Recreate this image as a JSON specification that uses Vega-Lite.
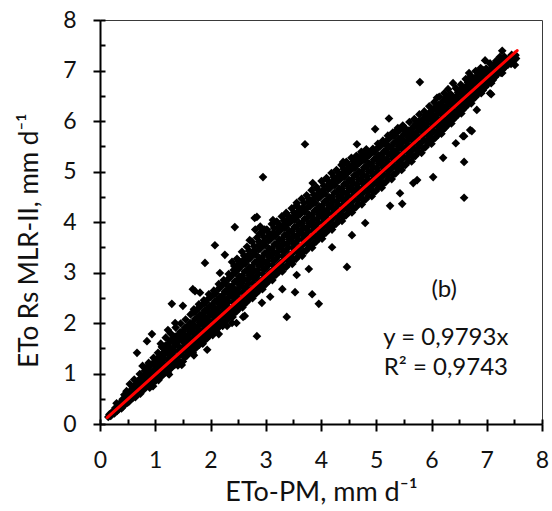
{
  "$schema": "https://vega.github.io/schema/vega-lite/v6.json",
  "width": 442,
  "height": 404,
  "autosize": {"type": "none"},
  "padding": {"left": 100, "top": 20, "right": 10, "bottom": 87},
  "background": "white",
  "config": {
    "view": {"stroke": "#3a3a3a", "strokeWidth": 1},
    "font": "Lato"
  },
  "datasets": {
    "obs": [
      {"pm":0.15,"mlr":0.14},{"pm":0.17,"mlr":0.19},{"pm":0.2,"mlr":0.17},{"pm":0.23,"mlr":0.25},
      {"pm":0.31,"mlr":0.26},{"pm":0.28,"mlr":0.32},{"pm":0.3,"mlr":0.41},
      {"pm":0.39,"mlr":0.31},{"pm":0.35,"mlr":0.4},{"pm":0.41,"mlr":0.49},
      {"pm":0.45,"mlr":0.39},{"pm":0.47,"mlr":0.46},{"pm":0.44,"mlr":0.58},{"pm":0.48,"mlr":0.65},
      {"pm":0.53,"mlr":0.45},{"pm":0.57,"mlr":0.57},{"pm":0.56,"mlr":0.67},{"pm":0.54,"mlr":0.79},
      {"pm":0.64,"mlr":0.53},{"pm":0.61,"mlr":0.63},{"pm":0.65,"mlr":0.78},{"pm":0.62,"mlr":0.88},
      {"pm":0.73,"mlr":0.6},{"pm":0.7,"mlr":0.74},{"pm":0.68,"mlr":0.84},{"pm":0.72,"mlr":0.99},
      {"pm":0.79,"mlr":0.68},{"pm":0.82,"mlr":0.78},{"pm":0.78,"mlr":0.93},{"pm":0.81,"mlr":1.05},{"pm":0.77,"mlr":1.15},
      {"pm":0.9,"mlr":0.72},{"pm":0.87,"mlr":0.87},{"pm":0.89,"mlr":0.98},{"pm":0.86,"mlr":1.13},{"pm":0.88,"mlr":1.21},
      {"pm":0.95,"mlr":0.81},{"pm":0.98,"mlr":0.92},{"pm":0.99,"mlr":1.08},{"pm":0.96,"mlr":1.19},{"pm":0.97,"mlr":1.31},
      {"pm":1.06,"mlr":0.87},{"pm":1.03,"mlr":1.01},{"pm":1.07,"mlr":1.13},{"pm":1.04,"mlr":1.29},{"pm":1.05,"mlr":1.41},
      {"pm":1.12,"mlr":0.95},{"pm":1.15,"mlr":1.07},{"pm":1.11,"mlr":1.23},{"pm":1.14,"mlr":1.35},{"pm":1.13,"mlr":1.51},{"pm":1.1,"mlr":1.59},
      {"pm":1.23,"mlr":1.01},{"pm":1.2,"mlr":1.17},{"pm":1.24,"mlr":1.29},{"pm":1.21,"mlr":1.45},{"pm":1.22,"mlr":1.57},{"pm":1.19,"mlr":1.71},
      {"pm":1.29,"mlr":1.11},{"pm":1.33,"mlr":1.23},{"pm":1.3,"mlr":1.39},{"pm":1.32,"mlr":1.51},{"pm":1.31,"mlr":1.67},{"pm":1.28,"mlr":1.79},
      {"pm":1.41,"mlr":1.16},{"pm":1.38,"mlr":1.32},{"pm":1.42,"mlr":1.45},{"pm":1.39,"mlr":1.61},{"pm":1.4,"mlr":1.74},{"pm":1.37,"mlr":1.91},
      {"pm":1.5,"mlr":1.24},{"pm":1.47,"mlr":1.41},{"pm":1.51,"mlr":1.53},{"pm":1.48,"mlr":1.7},{"pm":1.49,"mlr":1.83},{"pm":1.46,"mlr":1.99},
      {"pm":1.57,"mlr":1.35},{"pm":1.6,"mlr":1.47},{"pm":1.56,"mlr":1.63},{"pm":1.59,"mlr":1.76},{"pm":1.58,"mlr":1.93},{"pm":1.55,"mlr":2.07},
      {"pm":1.68,"mlr":1.41},{"pm":1.65,"mlr":1.57},{"pm":1.69,"mlr":1.7},{"pm":1.66,"mlr":1.87},{"pm":1.67,"mlr":1.99},{"pm":1.64,"mlr":2.17},{"pm":1.7,"mlr":2.27},
      {"pm":1.74,"mlr":1.51},{"pm":1.78,"mlr":1.63},{"pm":1.75,"mlr":1.8},{"pm":1.77,"mlr":1.93},{"pm":1.76,"mlr":2.1},{"pm":1.73,"mlr":2.23},{"pm":1.79,"mlr":2.37},
      {"pm":1.86,"mlr":1.59},{"pm":1.83,"mlr":1.74},{"pm":1.87,"mlr":1.87},{"pm":1.84,"mlr":2.04},{"pm":1.85,"mlr":2.17},{"pm":1.82,"mlr":2.33},{"pm":1.88,"mlr":2.45},
      {"pm":1.93,"mlr":1.69},{"pm":1.96,"mlr":1.81},{"pm":1.92,"mlr":1.98},{"pm":1.95,"mlr":2.11},{"pm":1.94,"mlr":2.28},{"pm":1.91,"mlr":2.41},{"pm":1.97,"mlr":2.57},
      {"pm":2.04,"mlr":1.76},{"pm":2.01,"mlr":1.91},{"pm":2.05,"mlr":2.05},{"pm":2.02,"mlr":2.21},{"pm":2.03,"mlr":2.35},{"pm":2.0,"mlr":2.51},{"pm":2.06,"mlr":2.64},
      {"pm":2.11,"mlr":1.87},{"pm":2.14,"mlr":1.99},{"pm":2.1,"mlr":2.16},{"pm":2.13,"mlr":2.29},{"pm":2.12,"mlr":2.46},{"pm":2.09,"mlr":2.59},{"pm":2.15,"mlr":2.77},
      {"pm":2.22,"mlr":1.94},{"pm":2.19,"mlr":2.11},{"pm":2.23,"mlr":2.24},{"pm":2.2,"mlr":2.41},{"pm":2.21,"mlr":2.54},{"pm":2.18,"mlr":2.71},{"pm":2.24,"mlr":2.85},
      {"pm":2.29,"mlr":2.05},{"pm":2.32,"mlr":2.17},{"pm":2.28,"mlr":2.35},{"pm":2.31,"mlr":2.49},{"pm":2.3,"mlr":2.66},{"pm":2.27,"mlr":2.79},{"pm":2.33,"mlr":2.97},
      {"pm":2.4,"mlr":2.12},{"pm":2.37,"mlr":2.28},{"pm":2.41,"mlr":2.42},{"pm":2.38,"mlr":2.59},{"pm":2.39,"mlr":2.73},{"pm":2.36,"mlr":2.91},{"pm":2.42,"mlr":3.05},{"pm":2.39,"mlr":3.21},
      {"pm":2.47,"mlr":2.23},{"pm":2.5,"mlr":2.35},{"pm":2.46,"mlr":2.53},{"pm":2.49,"mlr":2.67},{"pm":2.48,"mlr":2.85},{"pm":2.45,"mlr":2.99},{"pm":2.51,"mlr":3.16},{"pm":2.48,"mlr":3.27},
      {"pm":2.58,"mlr":2.31},{"pm":2.55,"mlr":2.47},{"pm":2.59,"mlr":2.61},{"pm":2.56,"mlr":2.79},{"pm":2.57,"mlr":2.93},{"pm":2.54,"mlr":3.11},{"pm":2.6,"mlr":3.25},{"pm":2.57,"mlr":3.41},
      {"pm":2.65,"mlr":2.41},{"pm":2.68,"mlr":2.54},{"pm":2.64,"mlr":2.71},{"pm":2.67,"mlr":2.85},{"pm":2.66,"mlr":3.03},{"pm":2.63,"mlr":3.17},{"pm":2.69,"mlr":3.35},{"pm":2.66,"mlr":3.51},
      {"pm":2.76,"mlr":2.49},{"pm":2.73,"mlr":2.65},{"pm":2.77,"mlr":2.79},{"pm":2.74,"mlr":2.97},{"pm":2.75,"mlr":3.11},{"pm":2.72,"mlr":3.29},{"pm":2.78,"mlr":3.43},{"pm":2.75,"mlr":3.61},
      {"pm":2.83,"mlr":2.59},{"pm":2.86,"mlr":2.72},{"pm":2.82,"mlr":2.9},{"pm":2.85,"mlr":3.04},{"pm":2.84,"mlr":3.22},{"pm":2.81,"mlr":3.36},{"pm":2.87,"mlr":3.54},{"pm":2.84,"mlr":3.69},{"pm":2.81,"mlr":3.85},
      {"pm":2.94,"mlr":2.67},{"pm":2.91,"mlr":2.83},{"pm":2.95,"mlr":2.97},{"pm":2.92,"mlr":3.15},{"pm":2.93,"mlr":3.29},{"pm":2.9,"mlr":3.47},{"pm":2.96,"mlr":3.61},{"pm":2.93,"mlr":3.79},{"pm":2.9,"mlr":3.91},
      {"pm":3.01,"mlr":2.78},{"pm":3.04,"mlr":2.9},{"pm":3.0,"mlr":3.08},{"pm":3.03,"mlr":3.22},{"pm":3.02,"mlr":3.4},{"pm":2.99,"mlr":3.54},{"pm":3.05,"mlr":3.72},{"pm":3.02,"mlr":3.85},
      {"pm":3.12,"mlr":2.85},{"pm":3.09,"mlr":3.01},{"pm":3.13,"mlr":3.15},{"pm":3.1,"mlr":3.33},{"pm":3.11,"mlr":3.47},{"pm":3.08,"mlr":3.65},{"pm":3.14,"mlr":3.79},{"pm":3.11,"mlr":3.96},
      {"pm":3.19,"mlr":2.96},{"pm":3.22,"mlr":3.08},{"pm":3.18,"mlr":3.26},{"pm":3.21,"mlr":3.4},{"pm":3.2,"mlr":3.58},{"pm":3.17,"mlr":3.72},{"pm":3.23,"mlr":3.89},{"pm":3.2,"mlr":4.01},
      {"pm":3.3,"mlr":3.02},{"pm":3.27,"mlr":3.19},{"pm":3.31,"mlr":3.33},{"pm":3.28,"mlr":3.51},{"pm":3.29,"mlr":3.65},{"pm":3.26,"mlr":3.83},{"pm":3.32,"mlr":3.95},{"pm":3.29,"mlr":4.11},
      {"pm":3.37,"mlr":3.11},{"pm":3.4,"mlr":3.25},{"pm":3.36,"mlr":3.43},{"pm":3.39,"mlr":3.57},{"pm":3.38,"mlr":3.75},{"pm":3.35,"mlr":3.89},{"pm":3.41,"mlr":4.05},{"pm":3.38,"mlr":4.15},
      {"pm":3.48,"mlr":3.17},{"pm":3.45,"mlr":3.35},{"pm":3.49,"mlr":3.49},{"pm":3.46,"mlr":3.67},{"pm":3.47,"mlr":3.81},{"pm":3.44,"mlr":3.99},{"pm":3.5,"mlr":4.11},{"pm":3.47,"mlr":4.27},
      {"pm":3.55,"mlr":3.27},{"pm":3.58,"mlr":3.41},{"pm":3.54,"mlr":3.59},{"pm":3.57,"mlr":3.73},{"pm":3.56,"mlr":3.91},{"pm":3.53,"mlr":4.05},{"pm":3.59,"mlr":4.21},{"pm":3.56,"mlr":4.33},
      {"pm":3.66,"mlr":3.33},{"pm":3.63,"mlr":3.51},{"pm":3.67,"mlr":3.65},{"pm":3.64,"mlr":3.83},{"pm":3.65,"mlr":3.97},{"pm":3.62,"mlr":4.15},{"pm":3.68,"mlr":4.29},{"pm":3.65,"mlr":4.46},
      {"pm":3.73,"mlr":3.43},{"pm":3.76,"mlr":3.57},{"pm":3.72,"mlr":3.75},{"pm":3.75,"mlr":3.89},{"pm":3.74,"mlr":4.07},{"pm":3.71,"mlr":4.21},{"pm":3.77,"mlr":4.39},{"pm":3.74,"mlr":4.53},
      {"pm":3.84,"mlr":3.49},{"pm":3.81,"mlr":3.67},{"pm":3.85,"mlr":3.81},{"pm":3.82,"mlr":3.99},{"pm":3.83,"mlr":4.13},{"pm":3.8,"mlr":4.31},{"pm":3.86,"mlr":4.45},{"pm":3.83,"mlr":4.63},
      {"pm":3.91,"mlr":3.61},{"pm":3.94,"mlr":3.74},{"pm":3.9,"mlr":3.92},{"pm":3.93,"mlr":4.06},{"pm":3.92,"mlr":4.24},{"pm":3.89,"mlr":4.38},{"pm":3.95,"mlr":4.56},{"pm":3.92,"mlr":4.69},
      {"pm":4.02,"mlr":3.67},{"pm":3.99,"mlr":3.85},{"pm":4.03,"mlr":3.99},{"pm":4.0,"mlr":4.17},{"pm":4.01,"mlr":4.31},{"pm":3.98,"mlr":4.49},{"pm":4.04,"mlr":4.63},{"pm":4.01,"mlr":4.81},
      {"pm":4.09,"mlr":3.79},{"pm":4.12,"mlr":3.92},{"pm":4.08,"mlr":4.1},{"pm":4.11,"mlr":4.24},{"pm":4.1,"mlr":4.42},{"pm":4.07,"mlr":4.56},{"pm":4.13,"mlr":4.73},{"pm":4.1,"mlr":4.87},
      {"pm":4.2,"mlr":3.85},{"pm":4.17,"mlr":4.03},{"pm":4.21,"mlr":4.17},{"pm":4.18,"mlr":4.35},{"pm":4.19,"mlr":4.49},{"pm":4.16,"mlr":4.67},{"pm":4.22,"mlr":4.81},{"pm":4.19,"mlr":4.97},
      {"pm":4.27,"mlr":3.96},{"pm":4.3,"mlr":4.09},{"pm":4.26,"mlr":4.27},{"pm":4.29,"mlr":4.41},{"pm":4.28,"mlr":4.59},{"pm":4.25,"mlr":4.73},{"pm":4.31,"mlr":4.91},{"pm":4.28,"mlr":5.03},
      {"pm":4.38,"mlr":4.02},{"pm":4.35,"mlr":4.2},{"pm":4.39,"mlr":4.34},{"pm":4.36,"mlr":4.52},{"pm":4.37,"mlr":4.66},{"pm":4.34,"mlr":4.84},{"pm":4.4,"mlr":4.97},{"pm":4.37,"mlr":5.13},
      {"pm":4.45,"mlr":4.13},{"pm":4.48,"mlr":4.26},{"pm":4.44,"mlr":4.44},{"pm":4.47,"mlr":4.58},{"pm":4.46,"mlr":4.76},{"pm":4.43,"mlr":4.9},{"pm":4.49,"mlr":5.07},{"pm":4.46,"mlr":5.19},
      {"pm":4.56,"mlr":4.19},{"pm":4.53,"mlr":4.37},{"pm":4.57,"mlr":4.51},{"pm":4.54,"mlr":4.69},{"pm":4.55,"mlr":4.83},{"pm":4.52,"mlr":5.01},{"pm":4.58,"mlr":5.13},{"pm":4.55,"mlr":5.27},
      {"pm":4.63,"mlr":4.29},{"pm":4.66,"mlr":4.43},{"pm":4.62,"mlr":4.61},{"pm":4.65,"mlr":4.75},{"pm":4.64,"mlr":4.93},{"pm":4.61,"mlr":5.07},{"pm":4.67,"mlr":5.23},{"pm":4.64,"mlr":5.31},
      {"pm":4.74,"mlr":4.35},{"pm":4.71,"mlr":4.53},{"pm":4.75,"mlr":4.67},{"pm":4.72,"mlr":4.85},{"pm":4.73,"mlr":4.99},{"pm":4.7,"mlr":5.17},{"pm":4.76,"mlr":5.29},{"pm":4.73,"mlr":5.39},
      {"pm":4.81,"mlr":4.45},{"pm":4.84,"mlr":4.59},{"pm":4.8,"mlr":4.77},{"pm":4.83,"mlr":4.91},{"pm":4.82,"mlr":5.09},{"pm":4.79,"mlr":5.23},{"pm":4.85,"mlr":5.39},{"pm":4.82,"mlr":5.44},
      {"pm":4.92,"mlr":4.51},{"pm":4.89,"mlr":4.69},{"pm":4.93,"mlr":4.83},{"pm":4.9,"mlr":5.01},{"pm":4.91,"mlr":5.15},{"pm":4.88,"mlr":5.33},{"pm":4.94,"mlr":5.45},
      {"pm":4.99,"mlr":4.61},{"pm":5.02,"mlr":4.75},{"pm":4.98,"mlr":4.93},{"pm":5.01,"mlr":5.07},{"pm":5.0,"mlr":5.25},{"pm":4.97,"mlr":5.39},{"pm":5.03,"mlr":5.55},
      {"pm":5.1,"mlr":4.68},{"pm":5.07,"mlr":4.86},{"pm":5.11,"mlr":5.0},{"pm":5.08,"mlr":5.18},{"pm":5.09,"mlr":5.32},{"pm":5.06,"mlr":5.49},{"pm":5.12,"mlr":5.61},
      {"pm":5.17,"mlr":4.79},{"pm":5.2,"mlr":4.93},{"pm":5.16,"mlr":5.11},{"pm":5.19,"mlr":5.25},{"pm":5.18,"mlr":5.43},{"pm":5.15,"mlr":5.56},{"pm":5.21,"mlr":5.71},
      {"pm":5.28,"mlr":4.85},{"pm":5.25,"mlr":5.03},{"pm":5.29,"mlr":5.17},{"pm":5.26,"mlr":5.35},{"pm":5.27,"mlr":5.49},{"pm":5.24,"mlr":5.66},{"pm":5.3,"mlr":5.77},
      {"pm":5.35,"mlr":4.96},{"pm":5.38,"mlr":5.1},{"pm":5.34,"mlr":5.28},{"pm":5.37,"mlr":5.42},{"pm":5.36,"mlr":5.59},{"pm":5.33,"mlr":5.72},{"pm":5.39,"mlr":5.86},
      {"pm":5.46,"mlr":5.03},{"pm":5.43,"mlr":5.21},{"pm":5.47,"mlr":5.35},{"pm":5.44,"mlr":5.53},{"pm":5.45,"mlr":5.66},{"pm":5.42,"mlr":5.82},{"pm":5.48,"mlr":5.91},
      {"pm":5.53,"mlr":5.13},{"pm":5.56,"mlr":5.27},{"pm":5.52,"mlr":5.45},{"pm":5.55,"mlr":5.59},{"pm":5.54,"mlr":5.76},{"pm":5.51,"mlr":5.87},
      {"pm":5.64,"mlr":5.2},{"pm":5.61,"mlr":5.38},{"pm":5.65,"mlr":5.52},{"pm":5.62,"mlr":5.7},{"pm":5.63,"mlr":5.83},{"pm":5.6,"mlr":5.98},
      {"pm":5.71,"mlr":5.31},{"pm":5.74,"mlr":5.45},{"pm":5.7,"mlr":5.63},{"pm":5.73,"mlr":5.77},{"pm":5.72,"mlr":5.94},{"pm":5.69,"mlr":6.04},
      {"pm":5.82,"mlr":5.37},{"pm":5.79,"mlr":5.55},{"pm":5.83,"mlr":5.69},{"pm":5.8,"mlr":5.87},{"pm":5.81,"mlr":5.99},{"pm":5.78,"mlr":6.13},
      {"pm":5.89,"mlr":5.48},{"pm":5.92,"mlr":5.62},{"pm":5.88,"mlr":5.8},{"pm":5.91,"mlr":5.94},{"pm":5.9,"mlr":6.1},{"pm":5.87,"mlr":6.19},
      {"pm":6.0,"mlr":5.55},{"pm":5.97,"mlr":5.73},{"pm":6.01,"mlr":5.87},{"pm":5.98,"mlr":6.04},{"pm":5.99,"mlr":6.16},{"pm":5.96,"mlr":6.29},
      {"pm":6.07,"mlr":5.67},{"pm":6.1,"mlr":5.8},{"pm":6.06,"mlr":5.98},{"pm":6.09,"mlr":6.11},{"pm":6.08,"mlr":6.27},{"pm":6.05,"mlr":6.37},
      {"pm":6.18,"mlr":5.75},{"pm":6.15,"mlr":5.91},{"pm":6.19,"mlr":6.05},{"pm":6.16,"mlr":6.22},{"pm":6.17,"mlr":6.34},{"pm":6.14,"mlr":6.48},
      {"pm":6.25,"mlr":5.87},{"pm":6.28,"mlr":5.99},{"pm":6.24,"mlr":6.16},{"pm":6.27,"mlr":6.29},{"pm":6.26,"mlr":6.45},{"pm":6.23,"mlr":6.55},
      {"pm":6.36,"mlr":5.95},{"pm":6.33,"mlr":6.11},{"pm":6.37,"mlr":6.24},{"pm":6.34,"mlr":6.41},{"pm":6.35,"mlr":6.53},
      {"pm":6.43,"mlr":6.07},{"pm":6.46,"mlr":6.19},{"pm":6.42,"mlr":6.36},{"pm":6.45,"mlr":6.49},{"pm":6.44,"mlr":6.65},
      {"pm":6.54,"mlr":6.15},{"pm":6.51,"mlr":6.31},{"pm":6.55,"mlr":6.44},{"pm":6.52,"mlr":6.61},{"pm":6.53,"mlr":6.72},
      {"pm":6.61,"mlr":6.27},{"pm":6.64,"mlr":6.39},{"pm":6.6,"mlr":6.56},{"pm":6.63,"mlr":6.69},{"pm":6.62,"mlr":6.83},
      {"pm":6.72,"mlr":6.35},{"pm":6.69,"mlr":6.51},{"pm":6.73,"mlr":6.64},{"pm":6.7,"mlr":6.81},{"pm":6.71,"mlr":6.89},
      {"pm":6.79,"mlr":6.47},{"pm":6.82,"mlr":6.59},{"pm":6.78,"mlr":6.76},{"pm":6.81,"mlr":6.87},{"pm":6.8,"mlr":6.99},
      {"pm":6.9,"mlr":6.55},{"pm":6.87,"mlr":6.71},{"pm":6.91,"mlr":6.83},{"pm":6.88,"mlr":6.98},{"pm":6.89,"mlr":7.05},
      {"pm":6.97,"mlr":6.67},{"pm":7.0,"mlr":6.79},{"pm":6.96,"mlr":6.94},{"pm":6.99,"mlr":7.04},
      {"pm":7.08,"mlr":6.75},{"pm":7.05,"mlr":6.91},{"pm":7.09,"mlr":7.01},{"pm":7.06,"mlr":7.14},
      {"pm":7.15,"mlr":6.87},{"pm":7.18,"mlr":6.99},{"pm":7.14,"mlr":7.11},{"pm":7.17,"mlr":7.19},
      {"pm":7.26,"mlr":6.95},{"pm":7.23,"mlr":7.09},{"pm":7.27,"mlr":7.17},{"pm":7.24,"mlr":7.27},
      {"pm":7.33,"mlr":7.07},{"pm":7.36,"mlr":7.15},{"pm":7.32,"mlr":7.27},
      {"pm":7.44,"mlr":7.13},{"pm":7.41,"mlr":7.25},{"pm":7.45,"mlr":7.31},
      {"pm":7.5,"mlr":7.21},{"pm":7.52,"mlr":7.3},{"pm":7.53,"mlr":7.24},
      {"pm":0.19,"mlr":0.16},{"pm":0.26,"mlr":0.21},{"pm":0.34,"mlr":0.29},{"pm":0.33,"mlr":0.37},
      {"pm":0.42,"mlr":0.35},{"pm":0.4,"mlr":0.44},{"pm":0.5,"mlr":0.42},{"pm":0.51,"mlr":0.52},{"pm":0.49,"mlr":0.61},
      {"pm":0.59,"mlr":0.51},{"pm":0.58,"mlr":0.62},{"pm":0.6,"mlr":0.73},{"pm":0.67,"mlr":0.58},{"pm":0.66,"mlr":0.7},{"pm":0.68,"mlr":0.83},
      {"pm":0.75,"mlr":0.67},{"pm":0.76,"mlr":0.79},{"pm":0.74,"mlr":0.91},
      {"pm":0.83,"mlr":0.73},{"pm":0.84,"mlr":0.85},{"pm":0.83,"mlr":0.99},{"pm":0.82,"mlr":1.1},
      {"pm":0.92,"mlr":0.8},{"pm":0.93,"mlr":0.92},{"pm":0.91,"mlr":1.05},{"pm":0.92,"mlr":1.17},
      {"pm":1.01,"mlr":0.86},{"pm":1.0,"mlr":1.0},{"pm":1.02,"mlr":1.13},{"pm":1.0,"mlr":1.25},
      {"pm":1.09,"mlr":0.94},{"pm":1.1,"mlr":1.07},{"pm":1.08,"mlr":1.21},{"pm":1.09,"mlr":1.35},
      {"pm":1.17,"mlr":1.01},{"pm":1.18,"mlr":1.15},{"pm":1.16,"mlr":1.29},{"pm":1.17,"mlr":1.43},{"pm":1.18,"mlr":1.55},
      {"pm":1.26,"mlr":1.09},{"pm":1.27,"mlr":1.23},{"pm":1.25,"mlr":1.37},{"pm":1.26,"mlr":1.51},{"pm":1.27,"mlr":1.64},
      {"pm":1.35,"mlr":1.17},{"pm":1.36,"mlr":1.31},{"pm":1.34,"mlr":1.45},{"pm":1.35,"mlr":1.59},{"pm":1.36,"mlr":1.73},
      {"pm":1.44,"mlr":1.24},{"pm":1.45,"mlr":1.38},{"pm":1.43,"mlr":1.53},{"pm":1.44,"mlr":1.67},{"pm":1.45,"mlr":1.82},
      {"pm":1.53,"mlr":1.32},{"pm":1.54,"mlr":1.47},{"pm":1.52,"mlr":1.61},{"pm":1.53,"mlr":1.76},{"pm":1.54,"mlr":1.91},
      {"pm":1.62,"mlr":1.41},{"pm":1.63,"mlr":1.55},{"pm":1.61,"mlr":1.69},{"pm":1.62,"mlr":1.84},{"pm":1.63,"mlr":2.0},
      {"pm":1.71,"mlr":1.49},{"pm":1.72,"mlr":1.63},{"pm":1.7,"mlr":1.78},{"pm":1.71,"mlr":1.93},{"pm":1.72,"mlr":2.08},{"pm":1.7,"mlr":2.22},
      {"pm":1.8,"mlr":1.57},{"pm":1.81,"mlr":1.71},{"pm":1.79,"mlr":1.86},{"pm":1.8,"mlr":2.01},{"pm":1.81,"mlr":2.16},{"pm":1.79,"mlr":2.3},
      {"pm":1.89,"mlr":1.66},{"pm":1.9,"mlr":1.8},{"pm":1.88,"mlr":1.95},{"pm":1.89,"mlr":2.1},{"pm":1.9,"mlr":2.25},{"pm":1.88,"mlr":2.39},
      {"pm":1.98,"mlr":1.75},{"pm":1.99,"mlr":1.89},{"pm":1.97,"mlr":2.04},{"pm":1.98,"mlr":2.19},{"pm":1.99,"mlr":2.34},{"pm":1.97,"mlr":2.49},
      {"pm":2.07,"mlr":1.83},{"pm":2.08,"mlr":1.98},{"pm":2.06,"mlr":2.13},{"pm":2.07,"mlr":2.28},{"pm":2.08,"mlr":2.43},{"pm":2.06,"mlr":2.57},
      {"pm":2.16,"mlr":1.93},{"pm":2.17,"mlr":2.07},{"pm":2.15,"mlr":2.22},{"pm":2.16,"mlr":2.37},{"pm":2.17,"mlr":2.52},{"pm":2.15,"mlr":2.68},
      {"pm":2.25,"mlr":2.02},{"pm":2.26,"mlr":2.17},{"pm":2.24,"mlr":2.32},{"pm":2.25,"mlr":2.47},{"pm":2.26,"mlr":2.62},{"pm":2.24,"mlr":2.78},
      {"pm":2.34,"mlr":2.11},{"pm":2.35,"mlr":2.26},{"pm":2.33,"mlr":2.42},{"pm":2.34,"mlr":2.57},{"pm":2.35,"mlr":2.72},{"pm":2.33,"mlr":2.88},
      {"pm":2.43,"mlr":2.2},{"pm":2.44,"mlr":2.35},{"pm":2.42,"mlr":2.5},{"pm":2.43,"mlr":2.66},{"pm":2.44,"mlr":2.82},{"pm":2.42,"mlr":2.98},{"pm":2.43,"mlr":3.13},
      {"pm":2.52,"mlr":2.29},{"pm":2.53,"mlr":2.44},{"pm":2.51,"mlr":2.6},{"pm":2.52,"mlr":2.76},{"pm":2.53,"mlr":2.92},{"pm":2.51,"mlr":3.07},{"pm":2.52,"mlr":3.22},
      {"pm":2.61,"mlr":2.39},{"pm":2.62,"mlr":2.54},{"pm":2.6,"mlr":2.7},{"pm":2.61,"mlr":2.86},{"pm":2.62,"mlr":3.02},{"pm":2.6,"mlr":3.18},{"pm":2.61,"mlr":3.33},
      {"pm":2.7,"mlr":2.47},{"pm":2.71,"mlr":2.62},{"pm":2.69,"mlr":2.78},{"pm":2.7,"mlr":2.94},{"pm":2.71,"mlr":3.1},{"pm":2.69,"mlr":3.26},{"pm":2.7,"mlr":3.43},
      {"pm":2.79,"mlr":2.57},{"pm":2.8,"mlr":2.72},{"pm":2.78,"mlr":2.88},{"pm":2.79,"mlr":3.04},{"pm":2.8,"mlr":3.2},{"pm":2.78,"mlr":3.36},{"pm":2.79,"mlr":3.52},
      {"pm":2.88,"mlr":2.65},{"pm":2.89,"mlr":2.81},{"pm":2.87,"mlr":2.97},{"pm":2.88,"mlr":3.13},{"pm":2.89,"mlr":3.29},{"pm":2.87,"mlr":3.45},{"pm":2.88,"mlr":3.61},{"pm":2.89,"mlr":3.77},
      {"pm":2.97,"mlr":2.75},{"pm":2.98,"mlr":2.9},{"pm":2.96,"mlr":3.06},{"pm":2.97,"mlr":3.22},{"pm":2.98,"mlr":3.38},{"pm":2.96,"mlr":3.54},{"pm":2.97,"mlr":3.7},{"pm":2.98,"mlr":3.85},
      {"pm":3.06,"mlr":2.84},{"pm":3.07,"mlr":2.99},{"pm":3.05,"mlr":3.15},{"pm":3.06,"mlr":3.31},{"pm":3.07,"mlr":3.47},{"pm":3.05,"mlr":3.63},{"pm":3.06,"mlr":3.78},
      {"pm":3.15,"mlr":2.93},{"pm":3.16,"mlr":3.08},{"pm":3.14,"mlr":3.24},{"pm":3.15,"mlr":3.4},{"pm":3.16,"mlr":3.56},{"pm":3.14,"mlr":3.72},{"pm":3.15,"mlr":3.88},
      {"pm":3.24,"mlr":3.02},{"pm":3.25,"mlr":3.17},{"pm":3.23,"mlr":3.33},{"pm":3.24,"mlr":3.49},{"pm":3.25,"mlr":3.65},{"pm":3.23,"mlr":3.8},{"pm":3.24,"mlr":3.95},
      {"pm":3.33,"mlr":3.1},{"pm":3.34,"mlr":3.26},{"pm":3.32,"mlr":3.42},{"pm":3.33,"mlr":3.58},{"pm":3.34,"mlr":3.74},{"pm":3.32,"mlr":3.89},{"pm":3.33,"mlr":4.03},
      {"pm":3.42,"mlr":3.18},{"pm":3.43,"mlr":3.34},{"pm":3.41,"mlr":3.5},{"pm":3.42,"mlr":3.66},{"pm":3.43,"mlr":3.82},{"pm":3.41,"mlr":3.97},{"pm":3.42,"mlr":4.1},
      {"pm":3.51,"mlr":3.26},{"pm":3.52,"mlr":3.42},{"pm":3.5,"mlr":3.58},{"pm":3.51,"mlr":3.74},{"pm":3.52,"mlr":3.9},{"pm":3.5,"mlr":4.05},{"pm":3.51,"mlr":4.19},
      {"pm":3.6,"mlr":3.34},{"pm":3.61,"mlr":3.5},{"pm":3.59,"mlr":3.66},{"pm":3.6,"mlr":3.82},{"pm":3.61,"mlr":3.98},{"pm":3.59,"mlr":4.13},{"pm":3.6,"mlr":4.27},
      {"pm":3.69,"mlr":3.42},{"pm":3.7,"mlr":3.58},{"pm":3.68,"mlr":3.74},{"pm":3.69,"mlr":3.9},{"pm":3.7,"mlr":4.06},{"pm":3.68,"mlr":4.22},{"pm":3.69,"mlr":4.38},
      {"pm":3.78,"mlr":3.5},{"pm":3.79,"mlr":3.66},{"pm":3.77,"mlr":3.82},{"pm":3.78,"mlr":3.98},{"pm":3.79,"mlr":4.14},{"pm":3.77,"mlr":4.3},{"pm":3.78,"mlr":4.46},
      {"pm":3.87,"mlr":3.58},{"pm":3.88,"mlr":3.74},{"pm":3.86,"mlr":3.9},{"pm":3.87,"mlr":4.06},{"pm":3.88,"mlr":4.22},{"pm":3.86,"mlr":4.38},{"pm":3.87,"mlr":4.54},
      {"pm":3.96,"mlr":3.67},{"pm":3.97,"mlr":3.83},{"pm":3.95,"mlr":3.99},{"pm":3.96,"mlr":4.15},{"pm":3.97,"mlr":4.31},{"pm":3.95,"mlr":4.47},{"pm":3.96,"mlr":4.62},
      {"pm":4.05,"mlr":3.76},{"pm":4.06,"mlr":3.92},{"pm":4.04,"mlr":4.08},{"pm":4.05,"mlr":4.24},{"pm":4.06,"mlr":4.4},{"pm":4.04,"mlr":4.56},{"pm":4.05,"mlr":4.72},
      {"pm":4.14,"mlr":3.85},{"pm":4.15,"mlr":4.01},{"pm":4.13,"mlr":4.17},{"pm":4.14,"mlr":4.33},{"pm":4.15,"mlr":4.49},{"pm":4.13,"mlr":4.65},{"pm":4.14,"mlr":4.8},
      {"pm":4.23,"mlr":3.94},{"pm":4.24,"mlr":4.1},{"pm":4.22,"mlr":4.26},{"pm":4.23,"mlr":4.42},{"pm":4.24,"mlr":4.58},{"pm":4.22,"mlr":4.74},{"pm":4.23,"mlr":4.89},
      {"pm":4.32,"mlr":4.02},{"pm":4.33,"mlr":4.18},{"pm":4.31,"mlr":4.34},{"pm":4.32,"mlr":4.5},{"pm":4.33,"mlr":4.66},{"pm":4.31,"mlr":4.82},{"pm":4.32,"mlr":4.97},
      {"pm":4.41,"mlr":4.11},{"pm":4.42,"mlr":4.27},{"pm":4.4,"mlr":4.43},{"pm":4.41,"mlr":4.59},{"pm":4.42,"mlr":4.75},{"pm":4.4,"mlr":4.9},{"pm":4.41,"mlr":5.05},
      {"pm":4.5,"mlr":4.19},{"pm":4.51,"mlr":4.35},{"pm":4.49,"mlr":4.51},{"pm":4.5,"mlr":4.67},{"pm":4.51,"mlr":4.83},{"pm":4.49,"mlr":4.98},{"pm":4.5,"mlr":5.13},
      {"pm":4.59,"mlr":4.28},{"pm":4.6,"mlr":4.44},{"pm":4.58,"mlr":4.6},{"pm":4.59,"mlr":4.76},{"pm":4.6,"mlr":4.92},{"pm":4.58,"mlr":5.07},{"pm":4.59,"mlr":5.2},
      {"pm":4.68,"mlr":4.36},{"pm":4.69,"mlr":4.52},{"pm":4.67,"mlr":4.68},{"pm":4.68,"mlr":4.84},{"pm":4.69,"mlr":5.0},{"pm":4.67,"mlr":5.15},{"pm":4.68,"mlr":5.27},
      {"pm":4.77,"mlr":4.44},{"pm":4.78,"mlr":4.6},{"pm":4.76,"mlr":4.76},{"pm":4.77,"mlr":4.92},{"pm":4.78,"mlr":5.08},{"pm":4.76,"mlr":5.23},{"pm":4.77,"mlr":5.34},
      {"pm":4.86,"mlr":4.52},{"pm":4.87,"mlr":4.68},{"pm":4.85,"mlr":4.84},{"pm":4.86,"mlr":5.0},{"pm":4.87,"mlr":5.16},{"pm":4.85,"mlr":5.31},
      {"pm":4.95,"mlr":4.6},{"pm":4.96,"mlr":4.76},{"pm":4.94,"mlr":4.92},{"pm":4.95,"mlr":5.08},{"pm":4.96,"mlr":5.24},{"pm":4.94,"mlr":5.39},
      {"pm":5.04,"mlr":4.68},{"pm":5.05,"mlr":4.84},{"pm":5.03,"mlr":5.0},{"pm":5.04,"mlr":5.16},{"pm":5.05,"mlr":5.32},{"pm":5.03,"mlr":5.47},
      {"pm":5.13,"mlr":4.77},{"pm":5.14,"mlr":4.93},{"pm":5.12,"mlr":5.09},{"pm":5.13,"mlr":5.25},{"pm":5.14,"mlr":5.4},{"pm":5.12,"mlr":5.55},
      {"pm":5.22,"mlr":4.86},{"pm":5.23,"mlr":5.02},{"pm":5.21,"mlr":5.18},{"pm":5.22,"mlr":5.34},{"pm":5.23,"mlr":5.5},{"pm":5.21,"mlr":5.63},
      {"pm":5.31,"mlr":4.94},{"pm":5.32,"mlr":5.1},{"pm":5.3,"mlr":5.26},{"pm":5.31,"mlr":5.42},{"pm":5.32,"mlr":5.57},{"pm":5.3,"mlr":5.71},
      {"pm":5.4,"mlr":5.03},{"pm":5.41,"mlr":5.19},{"pm":5.39,"mlr":5.35},{"pm":5.4,"mlr":5.5},{"pm":5.41,"mlr":5.65},{"pm":5.39,"mlr":5.79},
      {"pm":5.49,"mlr":5.12},{"pm":5.5,"mlr":5.28},{"pm":5.48,"mlr":5.44},{"pm":5.49,"mlr":5.6},{"pm":5.5,"mlr":5.74},{"pm":5.48,"mlr":5.86},
      {"pm":5.58,"mlr":5.2},{"pm":5.59,"mlr":5.36},{"pm":5.57,"mlr":5.52},{"pm":5.58,"mlr":5.67},{"pm":5.59,"mlr":5.81},
      {"pm":5.67,"mlr":5.29},{"pm":5.68,"mlr":5.45},{"pm":5.66,"mlr":5.61},{"pm":5.67,"mlr":5.76},{"pm":5.68,"mlr":5.9},
      {"pm":5.76,"mlr":5.38},{"pm":5.77,"mlr":5.54},{"pm":5.75,"mlr":5.7},{"pm":5.76,"mlr":5.85},{"pm":5.77,"mlr":5.99},
      {"pm":5.85,"mlr":5.46},{"pm":5.86,"mlr":5.62},{"pm":5.84,"mlr":5.78},{"pm":5.85,"mlr":5.93},{"pm":5.86,"mlr":6.06},
      {"pm":5.94,"mlr":5.55},{"pm":5.95,"mlr":5.71},{"pm":5.93,"mlr":5.87},{"pm":5.94,"mlr":6.02},{"pm":5.95,"mlr":6.15},
      {"pm":6.03,"mlr":5.64},{"pm":6.04,"mlr":5.8},{"pm":6.02,"mlr":5.95},{"pm":6.03,"mlr":6.1},{"pm":6.04,"mlr":6.23},
      {"pm":6.12,"mlr":5.73},{"pm":6.13,"mlr":5.89},{"pm":6.11,"mlr":6.04},{"pm":6.12,"mlr":6.19},{"pm":6.13,"mlr":6.32},
      {"pm":6.21,"mlr":5.83},{"pm":6.22,"mlr":5.98},{"pm":6.2,"mlr":6.13},{"pm":6.21,"mlr":6.28},{"pm":6.22,"mlr":6.41},
      {"pm":6.3,"mlr":5.93},{"pm":6.31,"mlr":6.07},{"pm":6.29,"mlr":6.22},{"pm":6.3,"mlr":6.37},{"pm":6.31,"mlr":6.5},
      {"pm":6.39,"mlr":6.03},{"pm":6.4,"mlr":6.17},{"pm":6.38,"mlr":6.32},{"pm":6.39,"mlr":6.47},
      {"pm":6.48,"mlr":6.13},{"pm":6.49,"mlr":6.27},{"pm":6.47,"mlr":6.42},{"pm":6.48,"mlr":6.57},
      {"pm":6.57,"mlr":6.23},{"pm":6.58,"mlr":6.37},{"pm":6.56,"mlr":6.52},{"pm":6.57,"mlr":6.66},
      {"pm":6.66,"mlr":6.33},{"pm":6.67,"mlr":6.47},{"pm":6.65,"mlr":6.62},{"pm":6.66,"mlr":6.76},
      {"pm":6.75,"mlr":6.43},{"pm":6.76,"mlr":6.57},{"pm":6.74,"mlr":6.72},{"pm":6.75,"mlr":6.85},
      {"pm":6.84,"mlr":6.53},{"pm":6.85,"mlr":6.67},{"pm":6.83,"mlr":6.81},{"pm":6.84,"mlr":6.93},
      {"pm":6.93,"mlr":6.61},{"pm":6.94,"mlr":6.77},{"pm":6.92,"mlr":6.9},{"pm":6.93,"mlr":7.01},
      {"pm":7.02,"mlr":6.73},{"pm":7.03,"mlr":6.85},{"pm":7.01,"mlr":6.99},
      {"pm":7.11,"mlr":6.81},{"pm":7.12,"mlr":6.96},{"pm":7.1,"mlr":7.07},
      {"pm":7.2,"mlr":6.93},{"pm":7.21,"mlr":7.05},{"pm":7.19,"mlr":7.15},
      {"pm":7.29,"mlr":7.02},{"pm":7.3,"mlr":7.13},{"pm":7.28,"mlr":7.22},
      {"pm":7.38,"mlr":7.11},{"pm":7.39,"mlr":7.21},{"pm":7.47,"mlr":7.18},{"pm":7.48,"mlr":7.27},
      {"pm":2.95,"mlr":4.89},{"pm":2.44,"mlr":3.9},{"pm":2.08,"mlr":3.54},{"pm":2.8,"mlr":4.08},
      {"pm":3.71,"mlr":5.54},{"pm":5.79,"mlr":6.77},{"pm":4.65,"mlr":5.54},{"pm":4.98,"mlr":5.84},
      {"pm":5.23,"mlr":6.05},{"pm":7.28,"mlr":7.39},{"pm":6.97,"mlr":7.2},{"pm":6.68,"mlr":6.95},
      {"pm":6.59,"mlr":4.48},{"pm":6.59,"mlr":5.19},{"pm":5.47,"mlr":4.36},{"pm":5.25,"mlr":4.32},
      {"pm":6.73,"mlr":5.8},{"pm":6.59,"mlr":5.7},{"pm":6.44,"mlr":5.56},{"pm":7.08,"mlr":6.53},
      {"pm":7.51,"mlr":7.11},{"pm":3.85,"mlr":4.77},{"pm":4.45,"mlr":5.17},{"pm":3.37,"mlr":4.18},
      {"pm":1.9,"mlr":3.19},{"pm":1.3,"mlr":2.38},{"pm":1.5,"mlr":2.34},{"pm":0.67,"mlr":1.41},
      {"pm":0.94,"mlr":1.78},{"pm":0.85,"mlr":1.64},{"pm":2.84,"mlr":1.74},{"pm":2.47,"mlr":2.0},
      {"pm":2.62,"mlr":2.14},{"pm":1.72,"mlr":2.63},{"pm":0.96,"mlr":0.75},{"pm":4.47,"mlr":3.11},
      {"pm":3.38,"mlr":2.12},{"pm":3.84,"mlr":2.57},{"pm":3.96,"mlr":2.38},{"pm":3.78,"mlr":3.07},
      {"pm":3.53,"mlr":2.61},{"pm":3.3,"mlr":2.67},{"pm":2.26,"mlr":3.35},{"pm":1.68,"mlr":2.67},
      {"pm":1.81,"mlr":2.6},{"pm":3.56,"mlr":2.95},{"pm":2.59,"mlr":2.12},{"pm":2.93,"mlr":2.4},
      {"pm":3.08,"mlr":2.52},{"pm":2.84,"mlr":4.1},{"pm":3.13,"mlr":4.04},{"pm":3.56,"mlr":4.38},
      {"pm":2.71,"mlr":3.64},{"pm":2.17,"mlr":2.99},{"pm":1.48,"mlr":1.17},{"pm":1.94,"mlr":1.47},
      {"pm":2.39,"mlr":2.0},{"pm":5.74,"mlr":4.83},{"pm":4.8,"mlr":3.98},{"pm":4.56,"mlr":3.74},
      {"pm":4.2,"mlr":3.5},{"pm":5.43,"mlr":4.57},{"pm":4.4,"mlr":5.19},{"pm":4.74,"mlr":5.37},
      {"pm":5.38,"mlr":5.82},{"pm":6.1,"mlr":6.46},{"pm":6.39,"mlr":6.75},{"pm":6.3,"mlr":6.63},
      {"pm":7.06,"mlr":6.55},{"pm":6.7,"mlr":5.82},{"pm":6.57,"mlr":5.7},{"pm":6.82,"mlr":6.22},
      {"pm":7.28,"mlr":6.95},{"pm":7.51,"mlr":7.31},{"pm":6.21,"mlr":5.27},{"pm":6.03,"mlr":4.89},
      {"pm":5.67,"mlr":4.77},{"pm":1.12,"mlr":1.53},{"pm":1.23,"mlr":1.86},{"pm":1.36,"mlr":2.0},
      {"pm":2.3,"mlr":1.94},{"pm":1.25,"mlr":0.98},{"pm":1.7,"mlr":1.36},{"pm":2.15,"mlr":1.78}
    ],
    "fit": [
      {"pm":0.13,"mlr":0.1273},
      {"pm":7.55,"mlr":7.3937}
    ],
    "notes": [
      {"pm":6.23,"mlr":2.65,"label":"(b)"},
      {"pm":6.26,"mlr":1.7,"label":"y = 0,9793x"},
      {"pm":6.26,"mlr":1.11,"label":"R² = 0,9743"}
    ]
  },
  "layer": [
    {
      "data": {"name": "obs"},
      "mark": {"type": "point", "shape": "diamond", "filled": true, "size": 75, "color": "#000000", "opacity": 1, "strokeWidth": 0},
      "encoding": {
        "x": {
          "field": "pm", "type": "quantitative",
          "scale": {"domain": [0, 8], "nice": false, "zero": false},
          "axis": {
            "orient": "bottom",
            "title": "ETo-PM, mm d⁻¹",
            "values": [0, 1, 2, 3, 4, 5, 6, 7, 8],
            "grid": false,
            "domainColor": "#000000", "domainWidth": 2,
            "tickColor": "#000000", "tickWidth": 2, "tickSize": 7,
            "labelFont": "Lato", "labelFontSize": 23, "labelColor": "#111111",
            "labelPadding": 18, "labelFlush": false, "labelOverlap": false,
            "titleFont": "Lato", "titleFontSize": 27, "titleFontWeight": "normal", "titleColor": "#111111",
            "titlePadding": 7
          }
        },
        "y": {
          "field": "mlr", "type": "quantitative",
          "scale": {"domain": [0, 8], "nice": false, "zero": false},
          "axis": {
            "orient": "left",
            "title": "ETo Rs MLR-II, mm d⁻¹",
            "values": [0, 1, 2, 3, 4, 5, 6, 7, 8],
            "grid": false,
            "domainColor": "#000000", "domainWidth": 2,
            "tickColor": "#000000", "tickWidth": 2, "tickSize": 7,
            "labelFont": "Lato", "labelFontSize": 23, "labelColor": "#111111",
            "labelPadding": 17, "labelFlush": false, "labelOverlap": false,
            "titleFont": "Lato", "titleFontSize": 26, "titleFontWeight": "normal", "titleColor": "#111111",
            "titlePadding": 20, "titleY": 220
          }
        }
      }
    },
    {
      "data": {"name": "fit"},
      "mark": {"type": "line", "color": "#ff0000", "strokeWidth": 3, "strokeCap": "round"},
      "encoding": {
        "x": {
          "field": "pm", "type": "quantitative",
          "axis": {
            "orient": "bottom", "title": null, "labels": false, "domain": false, "grid": false,
            "values": [0, 0.5, 1, 1.5, 2, 2.5, 3, 3.5, 4, 4.5, 5, 5.5, 6, 6.5, 7, 7.5, 8],
            "tickColor": "#000000", "tickWidth": 2, "tickSize": -5
          }
        },
        "y": {
          "field": "mlr", "type": "quantitative",
          "axis": {
            "orient": "left", "title": null, "labels": false, "domain": false, "grid": false,
            "values": [0, 0.5, 1, 1.5, 2, 2.5, 3, 3.5, 4, 4.5, 5, 5.5, 6, 6.5, 7, 7.5, 8],
            "tickColor": "#000000", "tickWidth": 2, "tickSize": -5
          }
        }
      }
    },
    {
      "data": {"name": "notes"},
      "mark": {"type": "text", "font": "Lato", "fontSize": 24, "color": "#111111", "align": "center", "baseline": "middle"},
      "encoding": {
        "x": {"field": "pm", "type": "quantitative", "axis": null},
        "y": {"field": "mlr", "type": "quantitative", "axis": null},
        "text": {"field": "label"}
      }
    }
  ],
  "resolve": {"axis": {"x": "independent", "y": "independent"}}
}
